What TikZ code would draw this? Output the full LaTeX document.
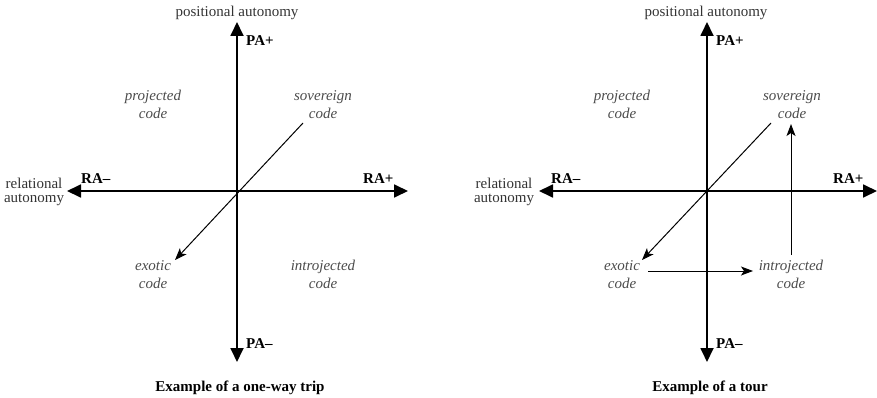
\documentclass[tikz,border=0pt]{standalone}
\usepackage{fontspec}
\setmainfont{Liberation Serif}
\usetikzlibrary{arrows.meta}
\begin{document}
\begin{tikzpicture}[x=1pt,y=-1pt,
  axis/.style={line width=1.8pt,-{Triangle[length=14pt,width=13pt]}},
  thinarrow/.style={line width=1pt,-{Stealth[length=12pt,width=9pt,inset=3pt]}},
  lbl/.style={font=\fontsize{15}{18}\selectfont, inner sep=0pt, anchor=base, text=black!80},
  rel/.style={font=\fontsize{15}{14}\selectfont, inner sep=0pt, anchor=base, align=center, text=black!80},
  code/.style={font=\fontsize{15}{18}\selectfont\itshape, inner sep=0pt, anchor=base, align=center, text=black!70},
  pole/.style={font=\fontsize{15}{18}\selectfont\bfseries, inner sep=0pt, anchor=base west},
  ttl/.style={font=\fontsize{15}{18}\selectfont\bfseries, inner sep=0pt, anchor=base}]
\useasboundingbox (0,0) rectangle (877,398);

% ---------------- left panel ----------------
\coordinate (O1) at (237,191);
\coordinate (T1) at (237,22);
\coordinate (B1) at (237,362);
\coordinate (L1) at (67,191);
\coordinate (R1) at (408,191);
\draw[axis] (O1) -- (T1);
\draw[axis] (O1) -- (B1);
\draw[axis] (O1) -- (L1);
\draw[axis] (O1) -- (R1);

\node[lbl] (pa1) at (237,17) {positional autonomy};
\node[pole] (pap1) at (246,46) {PA+};
\node[pole] (pam1) at (246,348) {PA–};
\node[pole] (ram1) at (81,183) {RA–};
\node[pole] (rap1) at (363,183) {RA+};
\node[rel] (ra1) at (34,202) {relational\\autonomy};
\node[code] (proj1) at (153,119) {projected\\code};
\node[code] (sov1) at (323,119) {sovereign\\code};
\node[code] (exo1) at (153,288) {exotic\\code};
\node[code] (intro1) at (323,288) {introjected\\code};
\node[ttl] (t1) at (240,391) {Example of a one-way trip};

\coordinate (D1s) at (303,123);
\coordinate (D1e) at (175,260);
\draw[thinarrow] (D1s) -- (D1e);

% ---------------- right panel ----------------
\coordinate (O2) at (707,191);
\coordinate (T2) at (707,22);
\coordinate (B2) at (707,362);
\coordinate (L2) at (539,191);
\coordinate (R2) at (877,191);
\draw[axis] (O2) -- (T2);
\draw[axis] (O2) -- (B2);
\draw[axis] (O2) -- (L2);
\draw[axis] (O2) -- (R2);

\node[lbl] (pa2) at (706,17) {positional autonomy};
\node[pole] (pap2) at (716,46) {PA+};
\node[pole] (pam2) at (716,348) {PA–};
\node[pole] (ram2) at (551,183) {RA–};
\node[pole] (rap2) at (833,183) {RA+};
\node[rel] (ra2) at (504,202) {relational\\autonomy};
\node[code] (proj2) at (622,119) {projected\\code};
\node[code] (sov2) at (792,119) {sovereign\\code};
\node[code] (exo2) at (622,288) {exotic\\code};
\node[code] (intro2) at (791,288) {introjected\\code};
\node[ttl] (t2) at (710,391) {Example of a tour};

\coordinate (D2s) at (771,123);
\coordinate (D2e) at (642,260);
\draw[thinarrow] (D2s) -- (D2e);
\coordinate (H2s) at (648,271);
\coordinate (H2e) at (753,271);
\draw[thinarrow] (H2s) -- (H2e);
\coordinate (V2s) at (791,255);
\coordinate (V2e) at (791,124);
\draw[thinarrow] (V2s) -- (V2e);
\end{tikzpicture}
\end{document}
